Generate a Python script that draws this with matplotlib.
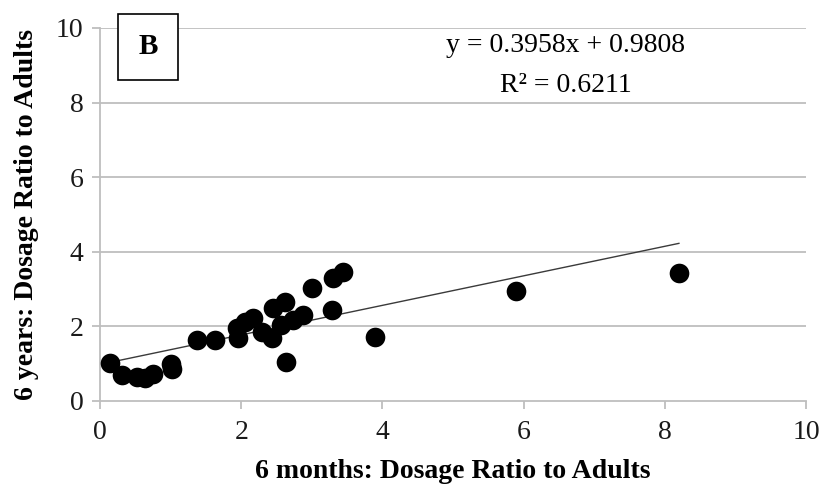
import matplotlib
matplotlib.use("Agg")
import matplotlib.pyplot as plt
import numpy as np

x_vals = [0.14, 0.31, 0.52, 0.64, 0.75, 1.01, 1.02, 1.37, 1.63, 1.94, 1.96, 2.05, 2.17,
          2.29, 2.43, 2.45, 2.57, 2.62, 2.64, 2.74, 2.88, 3.00, 3.28, 3.30, 3.44, 3.90,
          5.89, 8.20]
y_vals = [1.02, 0.70, 0.65, 0.62, 0.72, 0.98, 0.86, 1.64, 1.64, 1.96, 1.69, 2.13, 2.22,
          1.86, 1.69, 2.49, 2.04, 2.66, 1.05, 2.17, 2.31, 3.03, 2.44, 3.30, 3.47, 1.72,
          2.95, 3.42]
slope = 0.3958
intercept = 0.9808
eq_text = "y = 0.3958x + 0.9808"
r2_text = "R² = 0.6211"
x_ticks = [0, 2, 4, 6, 8, 10]
y_ticks = [0, 2, 4, 6, 8, 10]
x_label = "6 months: Dosage Ratio to Adults"
y_label = "6 years: Dosage Ratio to Adults"
panel = "B"

plt.rcParams['font.family'] = ['Liberation Serif', 'DejaVu Serif']

fig = plt.figure(figsize=(8.23, 4.92), dpi=100)
ax = fig.add_axes([100/823, 91/492, 706/823, 373/492])
ax.set_xlim(0, 10)
ax.set_ylim(0, 10)
ax.set_xticks(x_ticks)
ax.set_yticks(y_ticks)
grid_c = '#BEBEBE'
for yt in y_ticks[1:]:
    ax.axhline(yt, color=grid_c, lw=1.3, zorder=0)
for s in ['top', 'right']:
    ax.spines[s].set_visible(False)
for s in ['left', 'bottom']:
    ax.spines[s].set_color(grid_c)
    ax.spines[s].set_linewidth(1.3)
ax.tick_params(axis='both', colors=grid_c, length=6, width=1.3, labelsize=20,
               labelcolor='#1a1a1a', direction='out')
ax.tick_params(axis='x', pad=8)
ax.tick_params(axis='y', pad=6)

ax.scatter(x_vals, y_vals, s=200, color='black', zorder=3, linewidths=0)
xl = np.array([min(x_vals), max(x_vals)])
ax.plot(xl, slope * xl + intercept, color='#3a3a3a', lw=1.0, zorder=2)

ax.set_xlabel(x_label, fontsize=20, fontweight='bold', labelpad=10)
ax.set_ylabel(y_label, fontsize=20, fontweight='bold', labelpad=12)

fig.text(566/823, 1 - 46/492, eq_text, fontsize=20, ha='center', va='center')
fig.text(566/823, 1 - 85/492, r2_text, fontsize=20, ha='center', va='center')

fig.text(148/823, 1 - 47/492, panel, fontsize=21, fontweight='bold', ha='center', va='center',
         bbox=dict(boxstyle='square,pad=0.68', facecolor='white', edgecolor='black', lw=1.2))

fig.savefig('out.png', dpi=100)
